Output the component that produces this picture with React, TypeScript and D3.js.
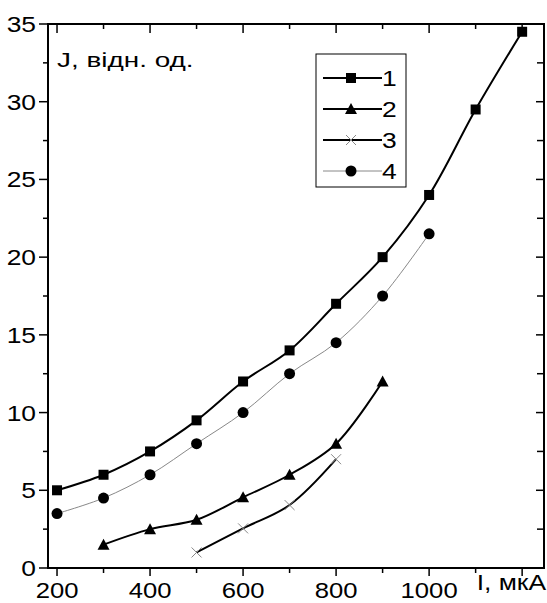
import React from 'react';
import * as d3 from 'd3';

// values
const currents1 = [200, 300, 400, 500, 600, 700, 800, 900, 1000, 1100, 1200];
const values1 = [5, 6, 7.5, 9.5, 12, 14, 17, 20, 24, 29.5, 34.5];
const currents2 = [300, 400, 500, 600, 700, 800, 900];
const values2 = [1.5, 2.5, 3.1, 4.55, 6, 8, 12];
const currents3 = [500, 600, 700, 800];
const values3 = [1, 2.55, 4.05, 7];
const currents4 = [200, 300, 400, 500, 600, 700, 800, 900, 1000];
const values4 = [3.5, 4.5, 6, 8, 10, 12.5, 14.5, 17.5, 21.5];

const xMajor = [200, 400, 600, 800, 1000, 1200];
const xMinor = [300, 500, 700, 900, 1100];
const xLabels = ['200', '400', '600', '800', '1000'];
const yMajor = [0, 5, 10, 15, 20, 25, 30, 35];
const yMinor = [2.5, 7.5, 12.5, 17.5, 22.5, 27.5, 32.5];
const legendNames = ['1', '2', '3', '4'];

const W = 547;
const H = 603;
const left = 48, right = 544, top = 24, bottom = 568;
const font = '"Liberation Sans", Arial, sans-serif';

// the original lettering is a little wider than Arial, so stretch it sideways
function Txt({ x, y, anchor, size, sx, children }:
  { x: number; y: number; anchor?: string; size: number; sx: number; children: React.ReactNode }) {
  return (
    <text transform={`translate(${x},${y}) scale(${sx},1)`} textAnchor={anchor || 'start'}
      fontFamily={font} fontSize={size}>{children}</text>
  );
}

function Marker({ kind, x, y }: { kind: string; x: number; y: number }) {
  if (kind === 'square') {
    return <rect x={x - 5} y={y - 5} width={10} height={10} fill="#000" />;
  }
  if (kind === 'triangle') {
    return <path d={`M${x},${y - 6}L${x + 6},${y + 5}L${x - 6},${y + 5}Z`} fill="#000" />;
  }
  if (kind === 'cross') {
    return (
      <path d={`M${x - 5},${y - 5}L${x + 5},${y + 5}M${x - 5},${y + 5}L${x + 5},${y - 5}`}
        stroke="#888" strokeWidth={1} fill="none" />
    );
  }
  return <circle cx={x} cy={y} r={5.5} fill="#000" />;
}

export default function App() {
  const x = d3.scaleLinear().domain([180.6, 1247]).range([left, right]);
  const y = d3.scaleLinear().domain([0, 35]).range([bottom, top]);

  const series = [
    { xs: currents1, ys: values1, kind: 'square', stroke: '#000', width: 2 },
    { xs: currents2, ys: values2, kind: 'triangle', stroke: '#000', width: 2 },
    { xs: currents3, ys: values3, kind: 'cross', stroke: '#000', width: 2 },
    { xs: currents4, ys: values4, kind: 'circle', stroke: '#888', width: 1 },
  ];

  const line = d3.line<[number, number]>()
    .x(d => x(d[0]))
    .y(d => y(d[1]))
    .curve(d3.curveCatmullRom.alpha(0.5));

  return (
    <div style={{ position: 'absolute', left: 0, top: 0 }}>
      <svg width={W} height={H} style={{ display: 'block', background: '#fff' }}>
        {/* curves */}
        {series.map((s, i) => (
          <path key={'l' + i}
            d={line(s.xs.map((v, j) => [v, s.ys[j]] as [number, number])) || ''}
            fill="none" stroke={s.stroke} strokeWidth={s.width} />
        ))}
        {series.map((s, i) => (
          <g key={'m' + i}>
            {s.xs.map((v, j) => (
              <Marker key={j} kind={s.kind} x={x(v)} y={y(s.ys[j])} />
            ))}
          </g>
        ))}

        {/* frame */}
        <rect x={left} y={top} width={right - left} height={bottom - top}
          fill="none" stroke="#000" strokeWidth={2} />

        {/* x ticks */}
        {xMajor.map(v => (
          <g key={'xM' + v}>
            <line x1={x(v)} x2={x(v)} y1={bottom} y2={bottom + 8} stroke="#000" strokeWidth={1.5} />
            <line x1={x(v)} x2={x(v)} y1={top} y2={top + 9} stroke="#000" strokeWidth={1.5} />
          </g>
        ))}
        {xMinor.map(v => (
          <g key={'xm' + v}>
            <line x1={x(v)} x2={x(v)} y1={bottom} y2={bottom + 5} stroke="#000" strokeWidth={1.5} />
            <line x1={x(v)} x2={x(v)} y1={top} y2={top + 5} stroke="#000" strokeWidth={1.5} />
          </g>
        ))}
        {xLabels.map((t, i) => (
          <Txt key={'xl' + t} x={x(xMajor[i])} y={598} anchor="middle" size={22.5} sx={1.14}>{t}</Txt>
        ))}
        <Txt x={546} y={590} anchor="end" size={22} sx={1.2}>I, мкА</Txt>

        {/* y ticks */}
        {yMajor.map(v => (
          <g key={'yM' + v}>
            <line x1={left - 9} x2={left} y1={y(v)} y2={y(v)} stroke="#000" strokeWidth={1.5} />
            <line x1={right - 8} x2={right} y1={y(v)} y2={y(v)} stroke="#000" strokeWidth={1.5} />
            <Txt x={36} y={y(v) + 8} anchor="end" size={22} sx={1.2}>{v}</Txt>
          </g>
        ))}
        {yMinor.map(v => (
          <g key={'ym' + v}>
            <line x1={left - 5} x2={left} y1={y(v)} y2={y(v)} stroke="#000" strokeWidth={1.5} />
            <line x1={right - 7} x2={right} y1={y(v)} y2={y(v)} stroke="#000" strokeWidth={1.5} />
          </g>
        ))}

        <Txt x={57} y={67} size={21} sx={1.33}>J, відн. од.</Txt>

        {/* legend */}
        <rect x={316} y={54} width={90} height={133} fill="#fff" stroke="#000" strokeWidth={1} />
        {series.map((s, i) => {
          const ly = 78 + i * 31;
          return (
            <g key={'lg' + i}>
              <line x1={323} x2={382} y1={ly} y2={ly} stroke={s.stroke} strokeWidth={s.width} />
              <Marker kind={s.kind} x={351} y={ly} />
              <Txt x={382} y={ly + 8} size={22} sx={1.2}>{legendNames[i]}</Txt>
            </g>
          );
        })}
      </svg>
    </div>
  );
}
